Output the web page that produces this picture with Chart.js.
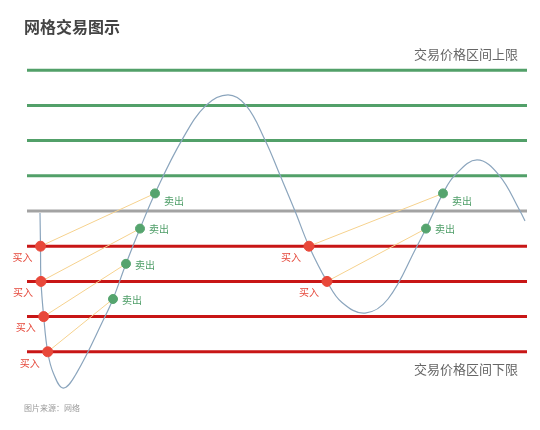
<!DOCTYPE html>
<html><head><meta charset="utf-8">
<script src="https://cdn.jsdelivr.net/npm/chart.js@4/dist/chart.umd.min.js"></script>
<style>html,body{margin:0;padding:0;background:#fff}#wrap{width:540px;height:430px;position:relative}</style>
</head><body><div id="wrap"><canvas id="c"></canvas></div>
<script>
// ---- data ----
const titleText = '网格交易图示';
const upperText = '交易价格区间上限';
const lowerText = '交易价格区间下限';
const sourceText = '图片来源：网络';
const buyLabel = '买入';
const sellLabel = '卖出';
const gridLevels = [4, 3, 2, 1, 0, -1, -2, -3, -4];
const curveX = [2.6, 2.7, 2.8, 3.34, 4.14, 5.26, 7.26, 9.94, 15.6, 17.2, 19.8, 22.6, 25.6, 31.0, 35.8, 40.2, 43.8, 47.6, 50.6, 53.6, 56.4, 60.0, 63.0, 67.6, 72.2, 78.0, 79.8, 83.2, 85.6, 90.0, 94.4, 98.6, 99.6];
const curveY = [-0.06, -1.0, -2.0, -3.0, -4.0, -4.6, -5.03, -4.6, -3.0, -2.5, -1.5, -0.5, 0.5, 2.02, 3.0, 3.3, 3.0, 2.02, 1.02, 0, -1.0, -2.0, -2.6, -2.9, -2.5, -1.0, -0.5, 0.5, 1.02, 1.45, 1.02, 0, -0.28];
const buyX = [2.7, 2.8, 3.34, 4.14, 56.4, 60.0];
const buyY = [-1, -2, -3, -4, -1, -2];
const sellX = [25.6, 22.6, 19.8, 17.2, 83.2, 79.8];
const sellY = [0.5, -0.5, -1.5, -2.5, 0.5, -0.5];

// ---- build ----
const FONT = '"Noto Sans CJK SC", "Noto Sans", sans-serif';
const xy = (xs, ys) => xs.map((x, i) => ({x, y: ys[i]}));
const datasets = [];
datasets.push({type:'scatter', data: xy(buyX, buyY), backgroundColor:'#e8483a', borderColor:'#e8483a', pointRadius:5, pointHoverRadius:5, order:0});
datasets.push({type:'scatter', data: xy(sellX, sellY), backgroundColor:'#55a46e', borderColor:'#55a46e', pointRadius:4.5, pointHoverRadius:4.5, order:0});
buyX.forEach((bx, i) => {
  datasets.push({type:'line', data:[{x:bx, y:buyY[i]}, {x:sellX[i], y:sellY[i]}], borderColor:'#f6d28e', borderWidth:1, pointRadius:0, fill:false, order:1});
});
datasets.push({type:'line', data: xy(curveX, curveY), borderColor:'#8ba5bd', borderWidth:1.2, pointRadius:0, fill:false, tension:0.4, order:2});
gridLevels.forEach(l => {
  const col = l > 0 ? '#52a069' : (l === 0 ? '#a3a3a3' : '#c81616');
  datasets.push({type:'line', data:[{x:0, y:l}, {x:100, y:l}], borderColor:col, borderWidth:3, pointRadius:0, fill:false, order:3});
});

const textPlugin = {
  id: 'texts',
  afterDatasetsDraw(chart) {
    const ctx = chart.ctx, xs = chart.scales.x, ys = chart.scales.y;
    ctx.save();
    ctx.textBaseline = 'middle';
    ctx.font = '10px ' + FONT;
    ctx.fillStyle = '#e5473a';
    ctx.textAlign = 'center';
    buyX.forEach((bx, i) => {
      ctx.fillText(buyLabel, xs.getPixelForValue(bx) - 18, ys.getPixelForValue(buyY[i]) + 11);
    });
    ctx.fillStyle = '#4f9e68';
    ctx.textAlign = 'left';
    sellX.forEach((sx, i) => {
      const dy = sellY[i] > 0 ? 8 : 1;
      ctx.fillText(sellLabel, xs.getPixelForValue(sx) + 9, ys.getPixelForValue(sellY[i]) + dy);
    });
    // headings
    ctx.fillStyle = '#444';
    ctx.font = 'bold 16px ' + FONT;
    ctx.textAlign = 'left';
    ctx.fillText(titleText, 24, 27);
    ctx.fillStyle = '#666';
    ctx.font = '13px ' + FONT;
    ctx.textAlign = 'right';
    const right = chart.chartArea.right - 9;
    ctx.fillText(upperText, right, ys.getPixelForValue(gridLevels[0]) - 16);
    ctx.fillText(lowerText, right, ys.getPixelForValue(gridLevels[gridLevels.length - 1]) + 17);
    ctx.fillStyle = '#999';
    ctx.font = '8px ' + FONT;
    ctx.textAlign = 'left';
    ctx.fillText(sourceText, 24, 408);
    ctx.restore();
  }
};

new Chart(document.getElementById('c'), {
  type: 'line',
  data: { datasets },
  options: {
    responsive: true, maintainAspectRatio: false, animation: false,
    layout: { padding: { left: 27, right: 13, top: 52.6, bottom: 25.4 } },
    plugins: { legend: {display:false}, tooltip: {enabled:false}, title: {display:false} },
    scales: {
      x: { type:'linear', min:0, max:100, display:false },
      y: { type:'linear', min:-5.5, max:4.5, display:false }
    }
  },
  plugins: [textPlugin]
});
</script>
</body></html>
